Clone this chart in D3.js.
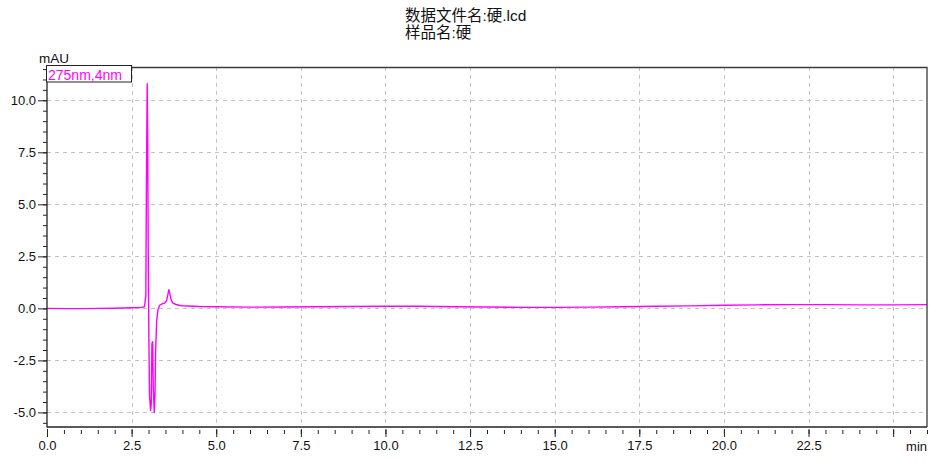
<!DOCTYPE html>
<html>
<head>
<meta charset="utf-8">
<script src="https://cdn.jsdelivr.net/npm/d3@7"></script>
<style>
  html, body { margin: 0; padding: 0; background: #fff; }
  svg { display: block; font-family: "Liberation Sans", Arial, "Noto Sans CJK SC", sans-serif; }
</style>
</head>
<body>
<svg id="chart" width="932" height="461"></svg>
<script>
// Chromatogram trace at 275 nm (retention time in min, absorbance in mAU)
const times = [
  0.0, 0.5, 1.0, 1.5, 2.0, 2.5, 2.8, 2.88, 2.92, 2.94, 2.96, 2.975, 2.99, 3.01, 3.03,
  3.06, 3.08, 3.10, 3.12, 3.14, 3.17, 3.19, 3.21, 3.24, 3.28, 3.33, 3.40, 3.47,
  3.53, 3.57, 3.60, 3.63, 3.67, 3.72, 3.80, 3.90, 4.0, 4.5, 5.0, 6.0, 7.0, 8.0,
  9.0, 10.0, 11.0, 12.0, 13.0, 14.0, 15.0, 16.0, 17.0, 18.0, 19.0, 20.0, 21.0,
  22.0, 23.0, 24.0, 25.0, 26.0
];
const absorbance = [
  0.00, -0.01, -0.01, 0.00, 0.01, 0.03, 0.05, 0.08, 0.6, 6.5, 10.8, 8.5, 3.0, -1.5, -4.2,
  -4.9, -4.6, -1.7, -1.6, -3.8, -5.0, -4.2, -2.0, -0.6, -0.05, 0.15, 0.22, 0.25,
  0.35, 0.65, 0.90, 0.70, 0.40, 0.25, 0.20, 0.15, 0.13, 0.09, 0.08, 0.06, 0.07, 0.08,
  0.09, 0.10, 0.10, 0.08, 0.07, 0.05, 0.05, 0.06, 0.08, 0.10, 0.12, 0.15, 0.17,
  0.18, 0.18, 0.17, 0.17, 0.18
];

const xMajorTicks = [0, 2.5, 5, 7.5, 10, 12.5, 15, 17.5, 20, 22.5, 25];
const xLabelTicks = [0, 2.5, 5, 7.5, 10, 12.5, 15, 17.5, 20, 22.5];
const yMajorTicks = [-5, -2.5, 0, 2.5, 5, 7.5, 10];

const titleLines = ["数据文件名:硬.lcd", "样品名:硬"];
const seriesLabel = "275nm,4nm";
const yUnit = "mAU";
const xUnit = "min";

const lineColor = "#ff00ff";

const svg = d3.select("#chart");
const plot = { left: 47, right: 927, top: 67, bottom: 427 };

const x = d3.scaleLinear().domain([0, 26]).range([plot.left, plot.right]);
const y = d3.scaleLinear().domain([-5.7, 11.6]).range([plot.bottom, plot.top]);

const xMinor = d3.range(0, 26.001, 0.5);
const yMinor = d3.range(-5.5, 11.501, 0.5);

// Dashed grid at the major ticks
const grid = svg.append("g").attr("stroke", "#c4c4c4").attr("stroke-dasharray", "4,4").attr("stroke-width", 1);
grid.selectAll("line.gx").data(xMajorTicks.filter(d => d > 0)).join("line")
  .attr("x1", d => Math.round(x(d)) + 0.5).attr("x2", d => Math.round(x(d)) + 0.5)
  .attr("y1", plot.top).attr("y2", plot.bottom);
grid.selectAll("line.gy").data(yMajorTicks).join("line")
  .attr("x1", plot.left).attr("x2", plot.right)
  .attr("y1", d => Math.round(y(d)) + 0.5).attr("y2", d => Math.round(y(d)) + 0.5);

// Trace
const line = d3.line().x((d, i) => x(times[i])).y(d => y(d));
svg.append("path")
  .datum(absorbance)
  .attr("fill", "none")
  .attr("stroke", lineColor)
  .attr("stroke-width", 1.4)
  .attr("stroke-linejoin", "round")
  .attr("d", line);

// Frame (top and right)
svg.append("path")
  .attr("d", `M${plot.left},${plot.top + 0.5}H${plot.right}V${plot.bottom}`)
  .attr("fill", "none").attr("stroke", "#3a3a3a").attr("stroke-width", 1.3);

// Y axis: minor then major ticks
const yMinorAxis = d3.axisLeft(y).tickValues(yMinor).tickSize(4).tickFormat("");
const gyMinor = svg.append("g").attr("transform", `translate(${plot.left},0)`).call(yMinorAxis);
gyMinor.select(".domain").remove();
const yAxis = d3.axisLeft(y).tickValues(yMajorTicks).tickSize(9).tickPadding(2).tickFormat(d => d.toFixed(1));
const gy = svg.append("g").attr("transform", `translate(${plot.left},0)`).call(yAxis);
gy.select(".domain").remove();
svg.append("line").attr("x1", plot.left).attr("x2", plot.left)
  .attr("y1", plot.top).attr("y2", plot.bottom + 0.5)
  .attr("stroke", "#222").attr("stroke-width", 1.3);

// X axis: baseline, then ticks set just below it
svg.append("line").attr("x1", plot.left).attr("x2", plot.right)
  .attr("y1", plot.bottom).attr("y2", plot.bottom)
  .attr("stroke", "#222").attr("stroke-width", 1.3);
const xMinorAxis = d3.axisBottom(x).tickValues(xMinor).tickSize(4).tickFormat("");
const gxMinor = svg.append("g").attr("transform", `translate(0,${plot.bottom + 3})`).call(xMinorAxis);
gxMinor.select(".domain").remove();
const xAxis = d3.axisBottom(x).tickValues(xMajorTicks).tickSize(8).tickPadding(4)
  .tickFormat(d => xLabelTicks.includes(d) ? d.toFixed(1) : "");
const gx = svg.append("g").attr("transform", `translate(0,${plot.bottom + 2})`).call(xAxis);
gx.select(".domain").remove();

[gy, gyMinor, gx, gxMinor].forEach(g => {
  g.selectAll(".tick line").attr("stroke", "#222").attr("stroke-width", 1);
  g.selectAll(".tick text").attr("fill", "#111").attr("font-size", 13)
    .attr("font-family", "Liberation Sans, Arial, sans-serif");
});

// Unit labels
svg.append("text").attr("x", 39).attr("y", 63).attr("font-size", 13.5).attr("fill", "#111").text(yUnit);
svg.append("text").attr("x", 927).attr("y", 451).attr("text-anchor", "end")
  .attr("font-size", 13).attr("fill", "#111").text(xUnit);

// Series label box
svg.append("rect").attr("x", 46.5).attr("y", 65.5).attr("width", 85).attr("height", 16.5)
  .attr("fill", "#fff").attr("stroke", "#222").attr("stroke-width", 1);
svg.append("text").attr("x", 48).attr("y", 79.5).attr("font-size", 14).attr("fill", lineColor).text(seriesLabel);

// Title
const title = svg.append("text").attr("font-size", 15.5).attr("fill", "#111")
  .attr("font-family", "Liberation Sans, Arial, 'Noto Sans CJK SC', sans-serif");
titleLines.forEach((t, i) => {
  title.append("tspan").attr("x", 405).attr("y", 21 + i * 16.5).text(t);
});
</script>
</body>
</html>
